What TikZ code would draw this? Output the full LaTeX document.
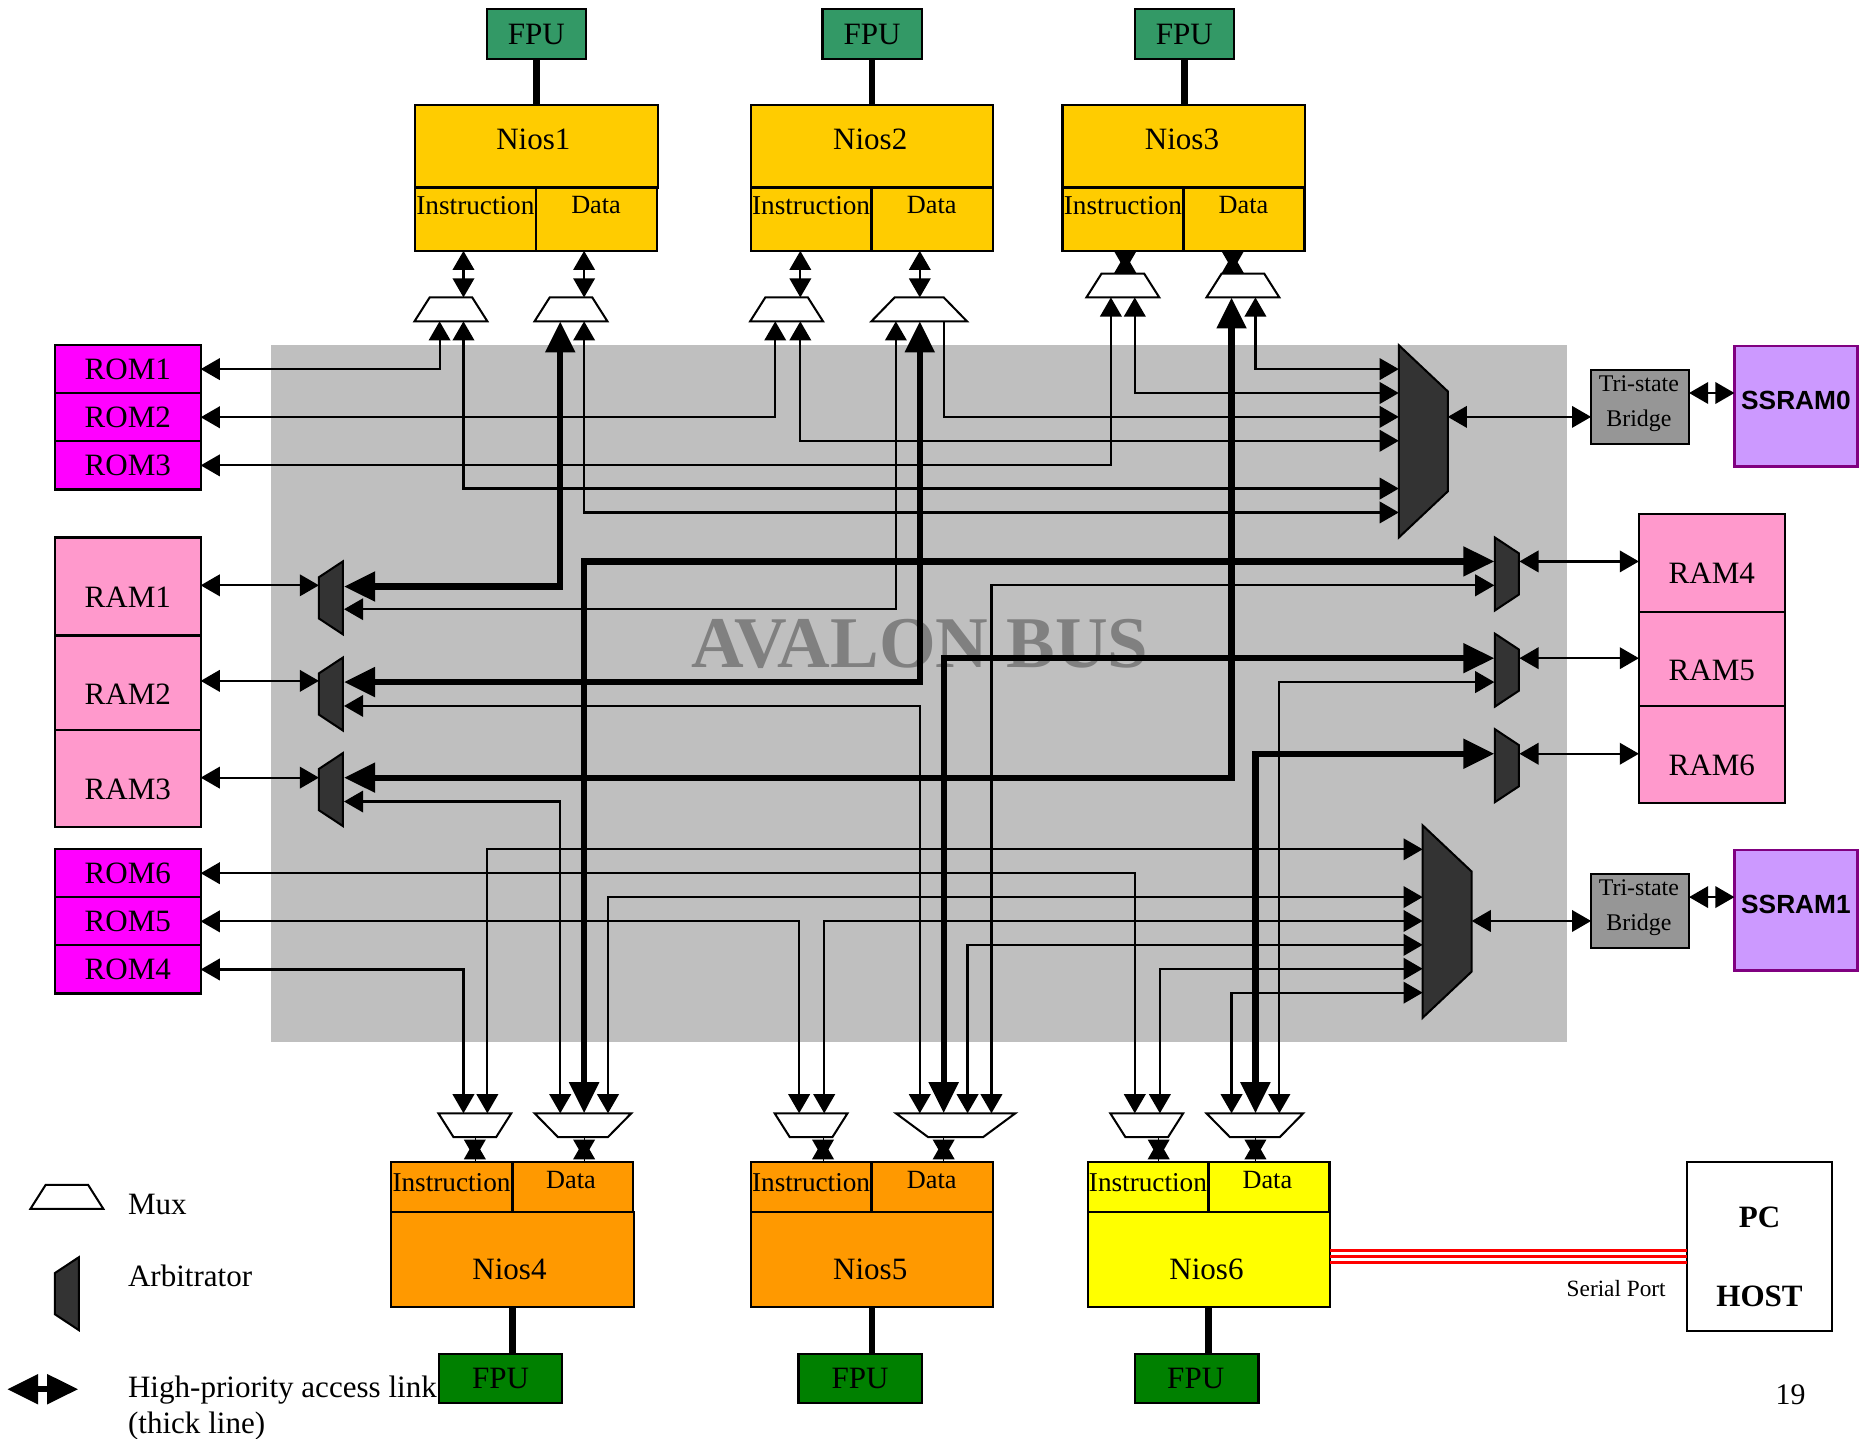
\documentclass[tikz,border=0pt]{standalone}
\usepackage{fontspec}
\setmainfont{Liberation Serif}
\newfontfamily\ssfont{Liberation Sans}
\usetikzlibrary{shapes.geometric,arrows.meta,positioning}
\definecolor{fpua}{HTML}{339966}
\definecolor{fpub}{HTML}{008000}
\definecolor{niosa}{HTML}{FFCC00}
\definecolor{niosb}{HTML}{FF9900}
\definecolor{niosc}{HTML}{FFFF00}
\definecolor{romc}{HTML}{FF00FF}
\definecolor{ramc}{HTML}{FF99CC}
\definecolor{ssc}{HTML}{CC99FF}
\definecolor{ssd}{HTML}{800080}
\definecolor{busc}{HTML}{BFBFBF}
\definecolor{arbc}{HTML}{333333}
\definecolor{brc}{HTML}{969696}
\definecolor{linkc}{HTML}{FF0000}
\newcommand{\fnt}[1]{\fontsize{#1}{#1}\selectfont}
\tikzstyle{box}=[rectangle,draw,line width=1.8pt,inner sep=0pt,outer sep=0pt]
\tikzstyle{txt}=[inner sep=0pt,font=\fnt{26}]
\tikzstyle{itxt}=[inner sep=0pt,font=\fnt{22.8}]
\tikzstyle{dtxt}=[inner sep=0pt,font=\fnt{22}]
\tikzstyle{fpu}=[box,minimum width=83pt,minimum height=42pt,fill=fpua,font=\fnt{26}]
\tikzstyle{fpub}=[box,minimum width=103pt,minimum height=41pt,fill=fpub]
\tikzstyle{core}=[box,minimum width=203pt,minimum height=69pt,fill=niosa]
\tikzstyle{cell}=[box,minimum width=101pt,minimum height=53pt,fill=niosa]
\tikzstyle{coreb}=[box,minimum width=203pt,minimum height=80pt,fill=niosb]
\tikzstyle{cellb}=[box,minimum width=101pt,minimum height=42pt,fill=niosb]
\tikzstyle{rom}=[box,minimum width=122pt,minimum height=40.3pt,fill=romc,font=\fnt{26}]
\tikzstyle{ram}=[box,minimum width=122pt,fill=ramc]
\tikzstyle{bridge}=[box,minimum width=82pt,minimum height=62pt,fill=brc]
\tikzstyle{sram}=[box,draw=ssd,minimum width=103pt,minimum height=101pt,fill=ssc]
\tikzstyle{stxt}=[inner sep=0pt,font=\ssfont\bfseries\fnt{22}]
\tikzstyle{mux}=[trapezium,draw,fill=white,line width=1.7pt,inner sep=0pt,outer sep=0pt,trapezium stretches=true,minimum width=61pt,minimum height=20pt,trapezium angle=53,execute at begin node=\phantom{.}]
\tikzstyle{arb}=[mux,fill=arbc,trapezium angle=51]
\tikzstyle{bigmux}=[mux,fill=arbc,minimum width=161pt,minimum height=41pt,trapezium angle=45.7,rotate=-90]
\tikzstyle{arr}=[{Triangle[length=16pt,width=18pt]}-{Triangle[length=16pt,width=18pt]},line width=1.8pt]
\tikzstyle{arrh}=[arr,shorten <=2.5pt,shorten >=2.5pt,preaction={draw,-,shorten <=0pt,shorten >=0pt}]
\tikzstyle{arrs}=[-{Triangle[length=16pt,width=18pt]},line width=1.8pt]
\tikzstyle{arrb}=[{Triangle[length=26pt,width=24pt]}-{Triangle[length=26pt,width=24pt]},line width=5.2pt]
\tikzstyle{flink}=[line width=5.8pt]
\tikzstyle{serial}=[linkc,line width=3pt]
\begin{document}
\begin{tikzpicture}[x=1pt,y=-1pt,node distance=40.3pt]
\useasboundingbox (0,0) rectangle (1568,1204.6);
\fill[busc] (227,289) rectangle (1312,872);
\node[font=\bfseries\fnt{61},text=gray,inner sep=0pt] (bus) at (770,539) {AVALON BUS};
\node[fpu] (FPU1) at (449,28.5) {FPU};
\node[fpu] (FPU2) at (730,28.5) {FPU};
\node[fpu] (FPU3) at (991.5,28.5) {FPU};
\node[core] (Nios1) at (449,122.5) {};
\node[core] (Nios2) at (730,122.5) {};
\node[core] (Nios3) at (991,122.5) {};
\node[cell] (I1) at (398,183.5) {};
\node[cell] (D1) at (499.5,183.5) {};
\node[cell] (I2) at (679,183.5) {};
\node[cell] (D2) at (780.5,183.5) {};
\node[cell] (I3) at (940,183.5) {};
\node[cell] (D3) at (1041.5,183.5) {};
\node[txt] (T1) at (446.5,117) {Nios1};
\node[txt] (T2) at (728.5,117) {Nios2};
\node[txt] (T3) at (989.5,117) {Nios3};
\node[itxt] (IT1) at (398,172) {Instruction};
\node[dtxt] (DT1) at (499,172) {Data};
\node[itxt] (IT2) at (679,172) {Instruction};
\node[dtxt] (DT2) at (780,172) {Data};
\node[itxt] (IT3) at (940,172) {Instruction};
\node[dtxt] (DT3) at (1041,172) {Data};
\draw[flink] (FPU1.south) -- (FPU1.south |- Nios1.north);
\draw[flink] (FPU2.south) -- (FPU2.south |- Nios2.north);
\draw[flink] (FPU3.south) -- (FPU3.south |- Nios3.north);
\node[mux] (m1) at (377.5,259) {};
\node[mux] (m2) at (478,259) {};
\node[mux] (m3) at (658.5,259) {};
\node[mux,minimum width=80pt,trapezium angle=45] (m4) at (769.5,259) {};
\node[mux] (m5) at (940,239) {};
\node[mux] (m6) at (1040.5,239) {};
\node[fpub] (FPU4) at (419,1154) {};
\node[fpub] (FPU5) at (720,1154) {};
\node[fpub] (FPU6) at (1002,1154) {};
\node[txt] (FT4) at (419,1154) {FPU};
\node[txt] (FT5) at (720,1154) {FPU};
\node[txt] (FT6) at (1001,1154) {FPU};
\node[coreb] (Nios4) at (429,1054.5) {};
\node[coreb] (Nios5) at (730,1054.5) {};
\node[coreb,fill=niosc] (Nios6) at (1012,1054.5) {};
\node[cellb] (I4) at (378,993.5) {};
\node[cellb] (D4) at (479.5,993.5) {};
\node[cellb] (I5) at (679,993.5) {};
\node[cellb] (D5) at (780.5,993.5) {};
\node[cellb,fill=niosc] (I6) at (961,993.5) {};
\node[cellb,fill=niosc] (D6) at (1062.5,993.5) {};
\node[txt] (T4) at (426.5,1063) {Nios4};
\node[txt] (T5) at (728.5,1063) {Nios5};
\node[txt] (T6) at (1010,1063) {Nios6};
\node[itxt] (IT4) at (378,990) {Instruction};
\node[dtxt] (DT4) at (478,988) {Data};
\node[itxt] (IT5) at (679,990) {Instruction};
\node[dtxt] (DT5) at (780,988) {Data};
\node[itxt] (IT6) at (961,990) {Instruction};
\node[dtxt] (DT6) at (1061,988) {Data};
\draw[flink] (Nios4.south) -- (Nios4.south |- FPU4.north);
\draw[flink] (Nios5.south) -- (Nios5.south |- FPU5.north);
\draw[flink] (Nios6.south) -- (Nios6.south |- FPU6.north);
\node[mux,rotate=180] (b1) at (397.5,942) {};
\node[mux,rotate=180,minimum width=81pt,trapezium angle=45] (b2) at (488,942) {};
\node[mux,rotate=180] (b3) at (679,942) {};
\node[mux,rotate=180,minimum width=100pt,trapezium angle=38.7] (b4) at (800,942) {};
\node[mux,rotate=180] (b5) at (960,942) {};
\node[mux,rotate=180,minimum width=81pt,trapezium angle=45] (b6) at (1050.5,942) {};
\node[rom] (ROM1) at (107,309) {ROM1};
\node[rom, below of=ROM1] (ROM2) {ROM2};
\node[rom, below of=ROM2] (ROM3) {ROM3};
\node[rom] (ROM6) at (107,731) {ROM6};
\node[rom, below of=ROM6] (ROM5) {ROM5};
\node[rom, below of=ROM5] (ROM4) {ROM4};
\node[ram,minimum height=82pt] (RAM1) at (107,491) {};
\node[ram,minimum height=79pt] (RAM2) at (107,571.5) {};
\node[ram,minimum height=81pt] (RAM3) at (107,651.5) {};
\node[ram,minimum height=82pt] (RAM4) at (1433,471) {};
\node[ram,minimum height=79pt] (RAM5) at (1433,551.5) {};
\node[ram,minimum height=81pt] (RAM6) at (1433,631.5) {};
\node[txt] (RT1) at (107,500) {RAM1};
\node[txt] (RT2) at (107,581) {RAM2};
\node[txt] (RT3) at (107,661) {RAM3};
\node[txt] (RT4) at (1433,480) {RAM4};
\node[txt] (RT5) at (1433,561) {RAM5};
\node[txt] (RT6) at (1433,641) {RAM6};
\node[arb,rotate=90] (a1) at (277,500.5) {};
\node[arb,rotate=90] (a2) at (277,581) {};
\node[arb,rotate=90] (a3) at (277,661) {};
\node[arb,rotate=-90] (a4) at (1261.5,480.5) {};
\node[arb,rotate=-90] (a5) at (1261.5,561) {};
\node[arb,rotate=-90] (a6) at (1261.5,641) {};
\node[bigmux] (bm0) at (1191.5,369.5) {};
\node[bigmux] (bm1) at (1211.5,771.5) {};
\node[bridge] (B0) at (1373,340.5) {};
\node[bridge] (B1) at (1373,762.5) {};
\node[dtxt,font=\fnt{20}] (BT0) at (1372,321) {Tri-state};
\node[dtxt,font=\fnt{20}] (BR0) at (1372,352) {Bridge};
\node[dtxt,font=\fnt{20}] (BT1) at (1372,743) {Tri-state};
\node[dtxt,font=\fnt{20}] (BR1) at (1372,774) {Bridge};
\node[sram] (SS0) at (1503.5,340) {};
\node[sram] (SS1) at (1503.5,762) {};
\node[stxt] (ST0) at (1503.5,335) {SSRAM0};
\node[stxt] (ST1) at (1503.5,757) {SSRAM1};
\node[box,minimum width=122pt,minimum height=142pt] (HOST) at (1473,1043.5) {};
\node[txt,font=\bfseries\fnt{26}] (PC) at (1473,1019) {PC};
\node[txt,font=\bfseries\fnt{26}] (HT) at (1473,1085) {HOST};
\node[dtxt,font=\fnt{19.5}] (SP) at (1353,1079) {Serial Port};
\node[txt,font=\fnt{25}] (PG) at (1499,1168) {19};
\node[mux] (LM) at (56,1002) {};
\node[arb,rotate=90] (LA) at (56,1083) {};
\node[txt,anchor=west] (LMT) at (107,1008) {Mux};
\node[txt,anchor=west] (LAT) at (107,1068) {Arbitrator};
\node[txt,anchor=west] (LHT) at (107,1164) {High-priority access link};
\node[txt,anchor=west] (LTT) at (107,1194) {(thick line)};
\coordinate (LHa) at (6,1163);
\coordinate (LHb) at (65.5,1163);
\draw[arrb] (LHa) -- (LHb);
\coordinate (m1t) at (388,249);
\coordinate (m2t) at (489,249);
\coordinate (m3t) at (670,249);
\coordinate (m4t) at (770,249);
\coordinate (m5t) at (942,229);
\coordinate (m6t) at (1032,229);
\draw[arr] (m1t) -- (m1t |- I1.south);
\draw[arr] (m2t) -- (m2t |- D1.south);
\draw[arr] (m3t) -- (m3t |- I2.south);
\draw[arr] (m4t) -- (m4t |- D2.south);
\draw[arrh] (m5t) -- (m5t |- I3.south);
\draw[arrh] (m6t) -- (m6t |- D3.south);
\coordinate (b1t) at (397.5,952);
\coordinate (b2t) at (489,952);
\coordinate (b3t) at (689,952);
\coordinate (b4t) at (790,952);
\coordinate (b5t) at (970,952);
\coordinate (b6t) at (1051,952);
\draw[arrh] (b1t) -- (b1t |- I4.north);
\draw[arrh] (b2t) -- (b2t |- D4.north);
\draw[arrh] (b3t) -- (b3t |- I5.north);
\draw[arrh] (b4t) -- (b4t |- D5.north);
\draw[arrh] (b5t) -- (b5t |- I6.north);
\draw[arrh] (b6t) -- (b6t |- D6.north);
\coordinate (m1a) at (368,269);
\coordinate (m1b) at (388,269);
\coordinate (m2a) at (469,269);
\coordinate (m2b) at (489,269);
\coordinate (m3a) at (649,269);
\coordinate (m3b) at (670,269);
\coordinate (m4a) at (750,269);
\coordinate (m4b) at (770,269);
\coordinate (m4c) at (790,269);
\coordinate (m5a) at (930,249);
\coordinate (m5b) at (950,249);
\coordinate (m6a) at (1031,249);
\coordinate (m6b) at (1051,249);
\coordinate (b1a) at (388,932);
\coordinate (b1b) at (408,932);
\coordinate (b2a) at (469,932);
\coordinate (b2b) at (489,932);
\coordinate (b2c) at (509,932);
\coordinate (b3a) at (669,932);
\coordinate (b3b) at (690,932);
\coordinate (b4a) at (770,932);
\coordinate (b4b) at (790,932);
\coordinate (b4c) at (810,932);
\coordinate (b4d) at (830,932);
\coordinate (b5a) at (950,932);
\coordinate (b5b) at (971,932);
\coordinate (b6a) at (1031,932);
\coordinate (b6b) at (1051,932);
\coordinate (b6c) at (1071,932);
\coordinate (bm0a) at (1171,309);
\coordinate (bm0b) at (1171,329);
\coordinate (bm0c) at (1171,349);
\coordinate (bm0d) at (1171,369);
\coordinate (bm0e) at (1171,409);
\coordinate (bm0f) at (1171,429);
\coordinate (bm0r) at (1212,349);
\coordinate (bm1a) at (1191,711);
\coordinate (bm1b) at (1191,751);
\coordinate (bm1c) at (1191,771);
\coordinate (bm1d) at (1191,791);
\coordinate (bm1e) at (1191,811);
\coordinate (bm1f) at (1191,831);
\coordinate (bm1r) at (1232,771);
\draw[arr] (ROM1) -| (m1a);
\draw[arr] (ROM2) -| (m3a);
\draw[arr] (ROM3) -| (m5a);
\draw[arr] (ROM6) -| (b5a);
\draw[arr] (ROM5) -| (b3a);
\draw[arr] (ROM4) -| (b1a);
\draw[arr] (m1b) |- (bm0e);
\draw[arr] (m2b) |- (bm0f);
\draw[arr] (m3b) |- (bm0d);
\draw[arrs] (m4c) |- (bm0c);
\draw[arr] (m5b) |- (bm0b);
\draw[arr] (m6b) |- (bm0a);
\draw[arr] (b1b) |- (bm1a);
\draw[arr] (b2c) |- (bm1b);
\draw[arr] (b3b) |- (bm1c);
\draw[arr] (b4c) |- (bm1d);
\draw[arr] (b5b) |- (bm1e);
\draw[arr] (b6a) |- (bm1f);
\coordinate (a1l) at (267,490);
\coordinate (a2l) at (267,570);
\coordinate (a3l) at (267,651);
\coordinate (a1a) at (288,491);
\coordinate (a1b) at (288,510);
\coordinate (a2a) at (288,571);
\coordinate (a2b) at (288,591);
\coordinate (a3a) at (288,651);
\coordinate (a3b) at (288,671);
\coordinate (a4r) at (1272,470);
\coordinate (a5r) at (1272,551);
\coordinate (a6r) at (1272,631);
\coordinate (a4a) at (1251,470);
\coordinate (a4b) at (1251,490);
\coordinate (a5a) at (1251,551);
\coordinate (a5b) at (1251,571);
\coordinate (a6a) at (1251,631);
\draw[arr] (a1l -| RAM1.east) -- (a1l);
\draw[arr] (a2l -| RAM2.east) -- (a2l);
\draw[arr] (a3l -| RAM3.east) -- (a3l);
\draw[arr] (a4r) -- (a4r -| RAM4.west);
\draw[arr] (a5r) -- (a5r -| RAM5.west);
\draw[arr] (a6r) -- (a6r -| RAM6.west);
\draw[arrb] (m2a) |- (a1a);
\draw[arr] (m4a) |- (a1b);
\draw[arrb] (m4b) |- (a2a);
\draw[arr] (b4a) |- (a2b);
\draw[arrb] (m6a) |- (a3a);
\draw[arr] (b2a) |- (a3b);
\draw[arrb] (b2b) |- (a4a);
\draw[arr] (b4d) |- (a4b);
\draw[arrb] (b4b) |- (a5a);
\draw[arr] (b6c) |- (a5b);
\draw[arrb] (b6b) |- (a6a);
\draw[arr] (bm0r) -- (bm0r -| B0.west);
\draw[arr] (bm1r) -- (bm1r -| B1.west);
\coordinate (s0) at (1433,329);
\coordinate (s1) at (1433,751);
\draw[arr] (s0 -| B0.east) -- (s0 -| SS0.west);
\draw[arr] (s1 -| B1.east) -- (s1 -| SS1.west);
\draw[serial] ([yshift=7.5pt]Nios6.east) -- ([yshift=7.5pt]Nios6.east -| HOST.west);
\draw[serial] ([yshift=2.5pt]Nios6.east) -- ([yshift=2.5pt]Nios6.east -| HOST.west);
\draw[serial] ([yshift=-2.5pt]Nios6.east) -- ([yshift=-2.5pt]Nios6.east -| HOST.west);
\end{tikzpicture}
\end{document}
